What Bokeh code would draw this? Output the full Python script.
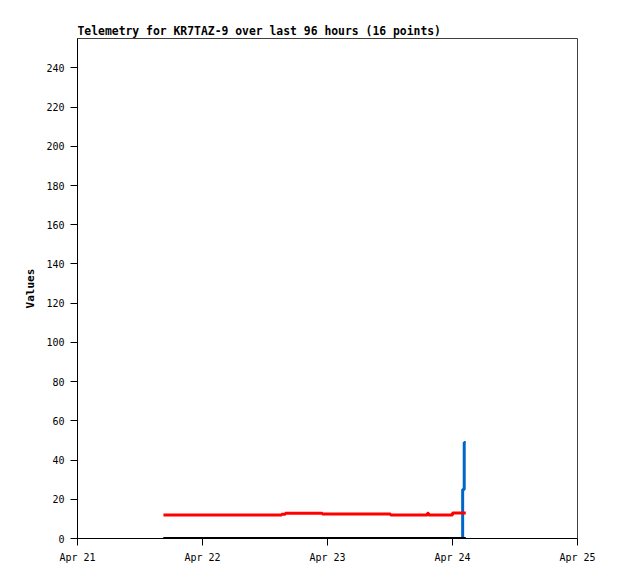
import pandas as pd
from bokeh.plotting import figure
from bokeh.models import FixedTicker, DatetimeTickFormatter, Range1d
from bokeh.embed import file_html
from bokeh.resources import INLINE

title_text = "Telemetry for KR7TAZ-9 over last 96 hours (16 points)"
y_label = "Values"

times = ["2024-04-21 16:30", "2024-04-21 22:00", "2024-04-22 04:00", "2024-04-22 10:00",
         "2024-04-22 15:12", "2024-04-22 15:54", "2024-04-22 23:00", "2024-04-23 06:00",
         "2024-04-23 12:06", "2024-04-23 19:12", "2024-04-23 19:24", "2024-04-24 00:00",
         "2024-04-24 01:57", "2024-04-24 02:15", "2024-04-24 02:24", "2024-04-24 02:33"]
red_values = [12.0, 12.0, 12.0, 12.0, 12.4, 12.9, 12.5, 12.5,
              12.0, 12.9, 12.0, 13.0, 13.0, 13.0, 13.0, 13.0]
blue_values = [0, 0, 0, 0, 0, 0, 0, 0, 0, 0, 0, 0, 25, 49, 49, 49]
black_values = [0] * 16

x_ticks = ["2024-04-21", "2024-04-22", "2024-04-23", "2024-04-24", "2024-04-25"]
y_ticks = [0, 20, 40, 60, 80, 100, 120, 140, 160, 180, 200, 220, 240]
y_max = 255

t = pd.to_datetime(times)
tick_ms = [pd.Timestamp(d).value / 1e6 for d in x_ticks]

p = figure(x_axis_type="datetime", output_backend="svg", toolbar_location=None,
           frame_width=500, frame_height=500,
           min_border_left=77, min_border_right=31, min_border_top=38, min_border_bottom=30,
           title=title_text,
           x_range=Range1d(pd.Timestamp(x_ticks[0]), pd.Timestamp(x_ticks[-1])),
           y_range=Range1d(0, y_max))

p.step(t, blue_values, mode="after", line_color="#0066CC", line_width=3)
p.step(t, red_values, mode="after", line_color="#FF0000", line_width=3)
p.step(t, black_values, mode="after", line_color="#000000", line_width=3)

p.title.text_font = "DejaVu Sans Mono"
p.title.text_font_style = "bold"
p.title.text_font_size = "11.4px"
p.title.text_color = "black"
p.title.align = "left"
p.title.standoff = 2

p.xgrid.visible = False
p.ygrid.visible = False
p.outline_line_color = "#404040"
p.outline_line_width = 1

p.xaxis.ticker = FixedTicker(ticks=tick_ms)
p.xaxis.formatter = DatetimeTickFormatter(days="%b %d", months="%b %d", hours="%b %d")
p.yaxis.ticker = FixedTicker(ticks=y_ticks)
p.yaxis.axis_label = y_label

for ax in (p.xaxis[0], p.yaxis[0]):
    ax.axis_line_color = "black"
    ax.major_tick_line_color = "black"
    ax.minor_tick_line_color = None
    ax.major_tick_in = 0
    ax.major_tick_out = 7
    ax.major_label_standoff = 6
    ax.major_label_text_font = "DejaVu Sans Mono"
    ax.major_label_text_font_size = "10px"
    ax.major_label_text_color = "black"

p.yaxis.axis_label_text_font = "DejaVu Sans Mono"
p.yaxis.axis_label_text_font_style = "bold"
p.yaxis.axis_label_text_font_size = "11px"
p.yaxis.axis_label_text_color = "black"
p.yaxis.axis_label_standoff = 6

open("out.html", "w").write(file_html(p, INLINE))
